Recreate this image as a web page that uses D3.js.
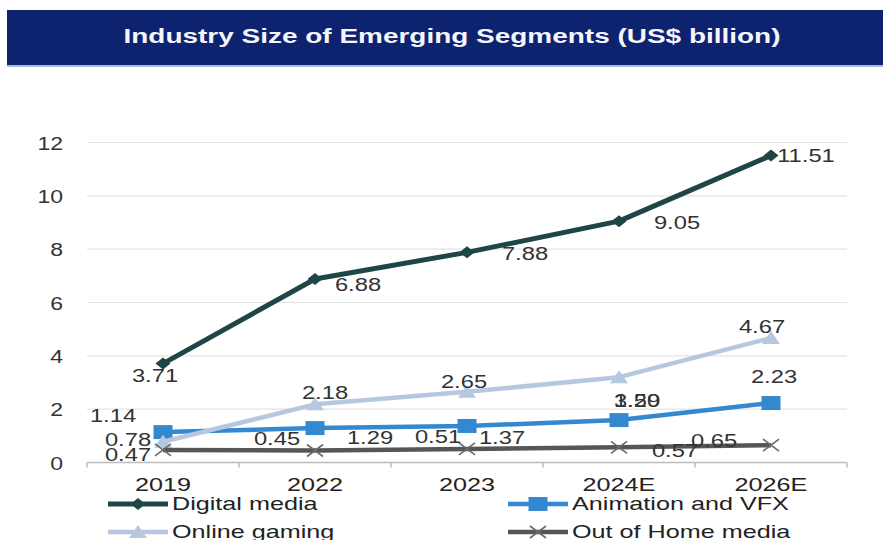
<!DOCTYPE html>
<html>
<head>
<meta charset="utf-8">
<script src="https://cdn.jsdelivr.net/npm/d3@7"></script>
<style>
  html, body { margin: 0; padding: 0; background: #ffffff; }
  svg { display: block; font-family: "Liberation Sans", Arial, sans-serif; }
</style>
</head>
<body>
<svg id="chart" width="883" height="540"></svg>
<script>
// Categories and series values (US$ billion)
const categories = ["2019", "2022", "2023", "2024E", "2026E"];
const digitalMedia = [3.71, 6.88, 7.88, 9.05, 11.51];
const animationVfx = [1.14, 1.29, 1.37, 1.59, 2.23];
const onlineGaming = [0.78, 2.18, 2.65, 3.20, 4.67];
const outOfHome = [0.47, 0.45, 0.51, 0.57, 0.65];
const yTicks = [0, 2, 4, 6, 8, 10, 12];
const titleText = "Industry Size of Emerging Segments (US$ billion)";

// Data-label offsets from each point (layout only)
const labelOffsets = {
  digital: [[-8, 12], [43, 6], [58, 1], [58, 1], [35, 0]],
  animation: [[-50, -17], [55, 9], [35, 12], [18, -20], [3, -26]],
  gaming: [[-35, -2], [10, -12], [-3, -10], [18, 23], [-9, -11]],
  ooh: [[-35, 5], [-38, -12], [-29, -12], [56, 3], [-57, -5]]
};

const series = [
  { key: "digital", name: "Digital media", values: digitalMedia, color: "#1e4647", width: 5, marker: "diamond" },
  { key: "animation", name: "Animation and VFX", values: animationVfx, color: "#3388cf", width: 4.5, marker: "square" },
  { key: "gaming", name: "Online gaming", values: onlineGaming, color: "#b6c8e0", width: 4.5, marker: "triangle" },
  { key: "ooh", name: "Out of Home media", values: outOfHome, color: "#565656", width: 4.5, marker: "cross" }
];

const svg = d3.select("#chart");
const plot = { left: 87, right: 847, top: 142.5, bottom: 462.5 };

const x = d3.scalePoint().domain(categories).range([plot.left, plot.right]).padding(0.5);
const y = d3.scaleLinear().domain([0, 12]).range([plot.bottom, plot.top]);

// Text drawn slightly widened horizontally
function stretchedText(g, tx, ty, str, opts) {
  const t = g.append("text")
    .attr("transform", `translate(${tx},${ty}) scale(${opts.sx},1)`)
    .attr("text-anchor", opts.anchor || "middle")
    .attr("dominant-baseline", "central")
    .attr("font-size", opts.size || 18)
    .attr("fill", opts.fill || "#333")
    .text(str);
  if (opts.weight) t.attr("font-weight", opts.weight);
  return t;
}

// Title banner
svg.append("rect").attr("x", 7).attr("y", 10).attr("width", 876).attr("height", 55).attr("fill", "#0e236f");
svg.append("rect").attr("x", 7).attr("y", 65).attr("width", 876).attr("height", 2).attr("fill", "#a9bad8");
svg.append("text")
  .attr("x", 452).attr("y", 36)
  .attr("text-anchor", "middle")
  .attr("dominant-baseline", "central")
  .attr("font-size", 19.5)
  .attr("font-weight", "bold")
  .attr("fill", "#f4f6fb")
  .attr("textLength", 657)
  .attr("lengthAdjust", "spacingAndGlyphs")
  .text(titleText);

// Gridlines
const grid = svg.append("g");
grid.selectAll("line").data(yTicks.filter(d => d > 0)).join("line")
  .attr("x1", plot.left).attr("x2", plot.right)
  .attr("y1", d => y(d)).attr("y2", d => y(d))
  .attr("stroke", "#e4e4e4").attr("stroke-width", 1.2);

// Y axis labels
const yAxis = d3.axisLeft(y).tickValues(yTicks).tickSize(0).tickFormat(d3.format("d"));
const yg = svg.append("g").attr("transform", `translate(${plot.left},0)`).call(yAxis);
yg.select(".domain").remove();
yg.selectAll(".tick text").remove();
yg.selectAll(".tick").each(function (d) {
  stretchedText(d3.select(this), -24, 0, String(d), { sx: 1.28, anchor: "end", fill: "#333" });
});

// X axis line with tick marks between categories
const step = x.step();
const xBoundaries = categories.map(c => x(c) - step / 2).concat([x(categories[categories.length - 1]) + step / 2]);
const xAxisG = svg.append("g");
xAxisG.append("line")
  .attr("x1", plot.left).attr("x2", plot.right)
  .attr("y1", plot.bottom).attr("y2", plot.bottom)
  .attr("stroke", "#bdbdbd").attr("stroke-width", 1.5);
xAxisG.selectAll("line.tk").data(xBoundaries).join("line").attr("class", "tk")
  .attr("x1", d => d).attr("x2", d => d)
  .attr("y1", plot.bottom).attr("y2", plot.bottom + 5)
  .attr("stroke", "#bdbdbd").attr("stroke-width", 1.5);
categories.forEach(c => {
  stretchedText(xAxisG, x(c), 485, c, { sx: 1.4, fill: "#222" });
});

// Marker drawing
function drawMarker(g, type, color) {
  if (type === "diamond") {
    g.append("path").attr("d", "M0,-6L7.5,0L0,6L-7.5,0Z").attr("fill", color);
  } else if (type === "square") {
    g.append("rect").attr("x", -9.5).attr("y", -7).attr("width", 19).attr("height", 14).attr("fill", color);
  } else if (type === "triangle") {
    g.append("path").attr("d", "M0,-7L9,6L-9,6Z").attr("fill", color);
  } else if (type === "cross") {
    g.append("path").attr("d", "M-8,-6L8,6M-8,6L8,-6").attr("stroke", "#6a6a6a").attr("stroke-width", 1.6).attr("fill", "none");
  }
}

const line = d3.line().x((d, i) => x(categories[i])).y(d => y(d));

// Series lines and markers
series.forEach(s => {
  const g = svg.append("g");
  g.append("path").datum(s.values)
    .attr("d", line)
    .attr("fill", "none")
    .attr("stroke", s.color)
    .attr("stroke-width", s.width)
    .attr("stroke-linejoin", "round");
  s.values.forEach((v, i) => {
    const mg = g.append("g").attr("transform", `translate(${x(categories[i])},${y(v)})`);
    drawMarker(mg, s.marker, s.color);
  });
});

// Data labels
const labels = svg.append("g");
series.forEach(s => {
  s.values.forEach((v, i) => {
    const [dx, dy] = labelOffsets[s.key][i];
    stretchedText(labels, x(categories[i]) + dx, y(v) + dy, v.toFixed(2), { sx: 1.32, fill: "#333" });
  });
});

// Legend
const legendPos = [[108, 504], [508, 504], [108, 532], [508, 532]];
series.forEach((s, i) => {
  const [lx, ly] = legendPos[i];
  const g = svg.append("g");
  g.append("line").attr("x1", lx).attr("x2", lx + 60).attr("y1", ly).attr("y2", ly)
    .attr("stroke", s.color).attr("stroke-width", s.width);
  const mg = g.append("g").attr("transform", `translate(${lx + 30},${ly})`);
  drawMarker(mg, s.marker, s.color);
  stretchedText(g, lx + 64, ly, s.name, { sx: 1.4, anchor: "start", fill: "#222" });
});
</script>
</body>
</html>
